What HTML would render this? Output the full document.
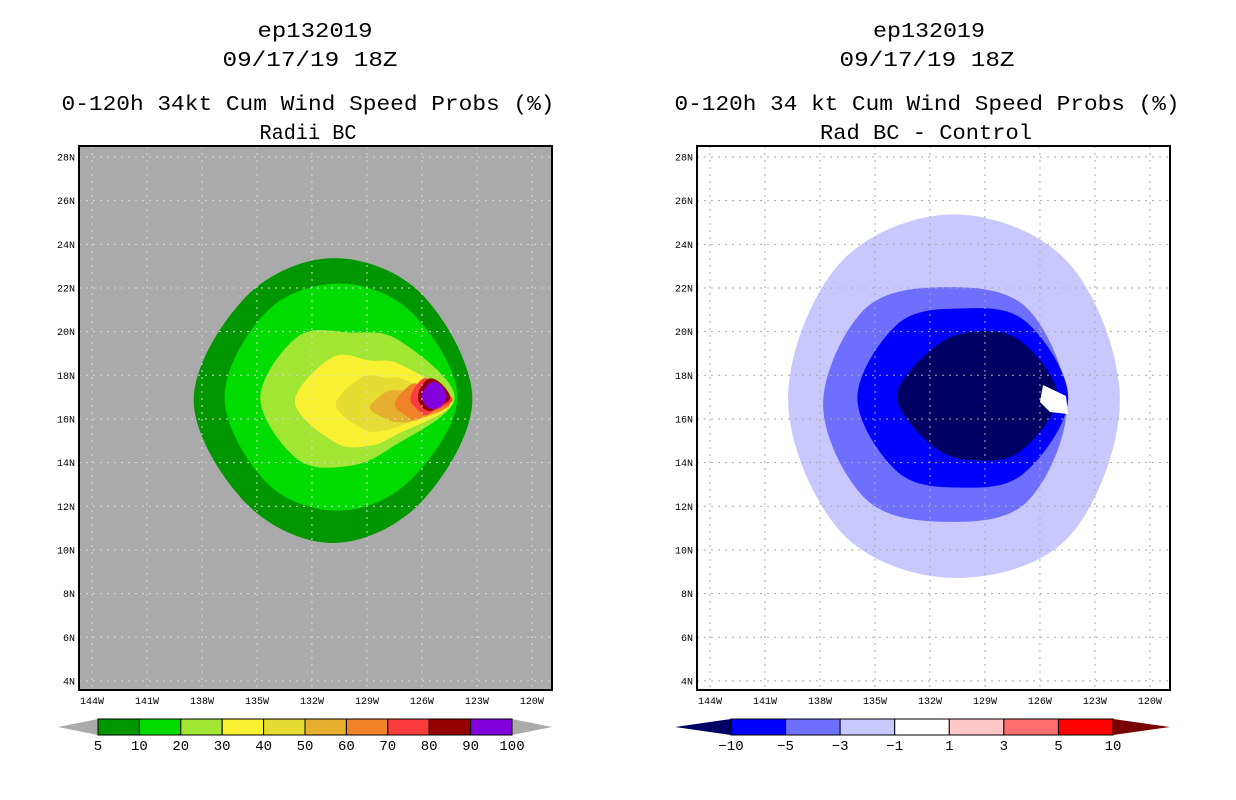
<!DOCTYPE html>
<html><head><meta charset="utf-8"><style>
html,body{margin:0;padding:0;background:#fff;width:1236px;height:800px;overflow:hidden}
svg{display:block}
text{font-family:"Liberation Mono","DejaVu Sans Mono",monospace;fill:#000}
</style></head><body>
<svg id="chart" width="1236" height="800" viewBox="0 0 1236 800">
<g>
<text x="315" y="37" text-anchor="middle" font-size="21" textLength="115" lengthAdjust="spacingAndGlyphs">ep132019</text>
<text x="310" y="66" text-anchor="middle" font-size="21" textLength="175" lengthAdjust="spacingAndGlyphs">09/17/19 18Z</text>
<text x="308" y="110" text-anchor="middle" font-size="21" textLength="493" lengthAdjust="spacingAndGlyphs">0-120h 34kt Cum Wind Speed Probs (%)</text>
<text x="308" y="139" text-anchor="middle" font-size="21" textLength="97" lengthAdjust="spacingAndGlyphs">Radii BC</text>
</g>
<g>
<text x="929" y="37" text-anchor="middle" font-size="21" textLength="112" lengthAdjust="spacingAndGlyphs">ep132019</text>
<text x="927" y="66" text-anchor="middle" font-size="21" textLength="175" lengthAdjust="spacingAndGlyphs">09/17/19 18Z</text>
<text x="927" y="110" text-anchor="middle" font-size="21" textLength="505" lengthAdjust="spacingAndGlyphs">0-120h 34 kt Cum Wind Speed Probs (%)</text>
<text x="926" y="139" text-anchor="middle" font-size="21" textLength="212" lengthAdjust="spacingAndGlyphs">Rad BC - Control</text>
</g>
<g id="leftPanel"></g>
<g id="rightPanel"></g>
<g id="leftBar"></g>
<g id="rightBar"></g>
</svg>
<script>
const lonTicks=[-144,-141,-138,-135,-132,-129,-126,-123,-120];
const latTicks=[4,6,8,10,12,14,16,18,20,22,24,26,28];
// Left panel contours (lower bound %), center lon/lat, radii (deg) E,NE,N,NW,W,SW,S,SE
const leftLevels=[5,10,20,30,40,50,60,70,80,90];
const leftColors=["#009600","#00dc00","#a0e632","#f9f032","#e6dc32","#e6af2d","#f08228","#fa3c3c","#960000","#8200dc"];
const leftLon=[-130.85,-130.47,-129.92,-128.83,-128.0,-127.2,-126.38,-125.83,-125.56,-125.4];
const leftLat=[16.87,17.0,16.96,16.78,16.64,16.5,16.64,16.87,16.96,17.0];
const leftRadii=[
[7.6,6.85,6.5,6.7,7.6,6.7,6.55,6.7],
[6.4,5.5,5.2,5.6,6.3,5.6,5.2,5.4],
[5.7,3.75,3.0,4.0,4.9,4.0,3.1,3.2],
[4.5,2.4,1.9,2.9,4.1,2.65,2.0,2.1],
[3.4,1.6,1.25,1.8,2.7,1.6,1.15,1.3],
[2.45,1.05,0.8,1.05,1.65,0.8,0.65,0.85],
[1.9,0.9,1.0,0.9,1.1,0.7,0.7,0.7],
[1.5,0.9,1.0,0.8,0.8,0.6,0.7,0.7],
[1.1,0.9,0.9,0.7,0.65,0.6,0.6,0.6],
[0.75,0.7,0.7,0.6,0.6,0.55,0.55,0.6]];
// Right panel difference contours
const rightLevels=[-1,-3,-5,-10];
const rightColors=["#c8c8ff","#6e6eff","#0000ff","#000064"];
const rightLon=[-130.74,-131.18,-130.36,-129.54];
const rightLat=[16.87,16.64,16.96,17.05];
const rightRadii=[
[9.1,8.9,8.5,8.8,9.0,8.6,8.15,8.9],
[6.65,6.3,5.4,6.2,6.65,6.1,5.35,6.3],
[5.9,5.0,4.1,4.8,5.6,4.8,4.1,4.9],
[4.5,3.55,2.95,3.15,4.25,3.25,2.95,3.55]];
const leftBarLabels=["5","10","20","30","40","50","60","70","80","90","100"];
const rightBarLabels=["-10","-5","-3","-1","1","3","5","10"];
const rightBarColors=["#0000ff","#6e6eff","#c8c8ff","#ffffff","#ffc8c8","#ff6e6e","#ff0000"];

const NS="http://www.w3.org/2000/svg";
function mk(tag,attrs,parent){const e=document.createElementNS(NS,tag);for(const k in attrs)e.setAttribute(k,attrs[k]);parent.appendChild(e);return e;}
function xs(lon,off){return off+92+(lon+144)*18.33;}
function ys(lat){return 157+(28-lat)*21.83;}
function blobPath(lon,lat,r,off){
  const pts=r.map((rad,i)=>{const a=i*Math.PI/4;return [xs(lon+rad*Math.cos(a),off),ys(lat+rad*Math.sin(a))];});
  const n=pts.length;let d="M"+pts[0][0].toFixed(1)+","+pts[0][1].toFixed(1);
  for(let i=0;i<n;i++){const p0=pts[(i-1+n)%n],p1=pts[i],p2=pts[(i+1)%n],p3=pts[(i+2)%n];
    const c1=[p1[0]+(p2[0]-p0[0])/6,p1[1]+(p2[1]-p0[1])/6],c2=[p2[0]-(p3[0]-p1[0])/6,p2[1]-(p3[1]-p1[1])/6];
    d+=" C"+c1[0].toFixed(1)+","+c1[1].toFixed(1)+" "+c2[0].toFixed(1)+","+c2[1].toFixed(1)+" "+p2[0].toFixed(1)+","+p2[1].toFixed(1);}
  return d+"Z";
}
function panel(g,off,bg,gridColor,levels,colors,lons,lats,radii,prefix){
  const x0=79+off,x1=552+off;
  const bgR=mk("rect",{x:x0,y:146,width:x1-x0,height:544,fill:bg},g);
  
  
  const clip=mk("clipPath",{id:prefix+"clip"},g);mk("rect",{x:x0,y:146,width:x1-x0,height:544},clip);
  const cg=mk("g",{"clip-path":"url(#"+prefix+"clip)"},g);
  levels.forEach((lv,i)=>{
    const p=mk("path",{d:blobPath(lons[i],lats[i],radii[i],off),fill:colors[i]},cg);
    
    
  });
  lonTicks.forEach(lon=>{
    const x=xs(lon,off);
    const l=mk("line",{x1:x,x2:x,y1:146,y2:690,stroke:gridColor,"stroke-width":1,"stroke-dasharray":"2,5"},g);
    
    
    const t=mk("text",{x:x,y:704,"text-anchor":"middle","font-size":10,"font-family":"Liberation Sans, sans-serif"},g);
    t.textContent=Math.abs(lon)+"W";
    
    
  });
  latTicks.forEach(lat=>{
    const y=ys(lat);
    const l=mk("line",{x1:x0,x2:x1,y1:y,y2:y,stroke:gridColor,"stroke-width":1,"stroke-dasharray":"2,5"},g);
    
    
    const t=mk("text",{x:x0-4,y:y+3.5,"text-anchor":"end","font-size":10,"font-family":"Liberation Sans, sans-serif"},g);
    t.textContent=lat+"N";
    
    
  });
  const fr=mk("rect",{x:x0,y:146,width:x1-x0,height:544,fill:"none",stroke:"#000","stroke-width":2},g);
  
  
}
const lp=document.getElementById("leftPanel"),rp=document.getElementById("rightPanel");
panel(lp,0,"#aaaaaa","#d8d8d8",leftLevels,leftColors,leftLon,leftLat,leftRadii,"left");
panel(rp,618,"#ffffff","#aaaaaa",rightLevels,rightColors,rightLon,rightLat,rightRadii,"right");
const notch=mk("path",{d:"M1043,385 L1066,396 L1068,414 L1050,412 L1040,402 Z",fill:"#ffffff"},rp);



function bar(g,x0,x1,tipL,tipR,colors,labels,tipLC,tipRC,prefix){
  const n=colors.length,w=(x1-x0)/n,y0=719,y1=735,ym=727;
  const tl=mk("polygon",{points:`${tipL},${ym} ${x0},${y0} ${x0},${y1}`,fill:tipLC},g);
  
  
  const tr=mk("polygon",{points:`${tipR},${ym} ${x1},${y0} ${x1},${y1}`,fill:tipRC},g);
  
  
  colors.forEach((c,i)=>{
    const r=mk("rect",{x:x0+i*w,y:y0,width:w,height:y1-y0,fill:c,stroke:"#000","stroke-width":1},g);
    
    
  });
  labels.forEach((lb,i)=>{
    const t=mk("text",{x:x0+i*w,y:750,"text-anchor":"middle","font-size":14,"font-family":"Liberation Sans, sans-serif"},g);
    t.textContent=lb.replace('-','\u2212');
    
    
  });
}
bar(document.getElementById("leftBar"),98,512,58,552,leftColors,leftBarLabels,"#aaaaaa","#aaaaaa","left-colorbar");
bar(document.getElementById("rightBar"),731,1113,675,1170,rightBarColors,rightBarLabels,"#000064","#780000","right-colorbar");
</script>
</body></html>
